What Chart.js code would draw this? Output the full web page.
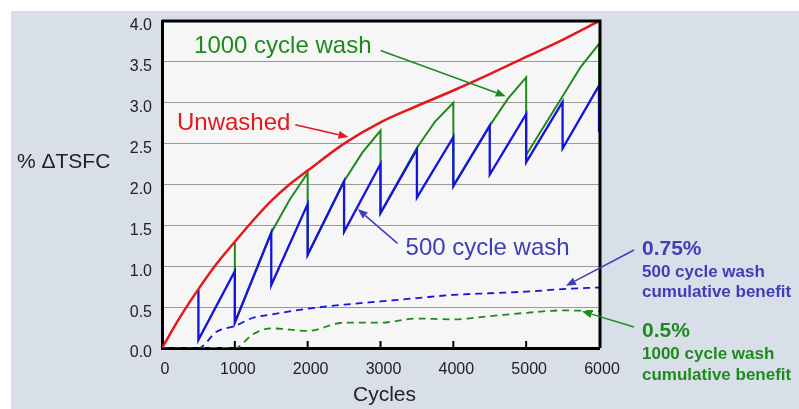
<!DOCTYPE html>
<html>
<head>
<meta charset="utf-8">
<script src="https://cdn.jsdelivr.net/npm/chart.js@4.4.1/dist/chart.umd.min.js"></script>
<style>
html, body { margin: 0; padding: 0; background: #fff; }
</style>
</head>
<body>
<canvas id="chart" width="799" height="409"></canvas>
<script>
// cycles / % delta TSFC
const unwashedCycles = [0,250,500,750,1000,1250,1500,1750,2000,2500,3000,3500,4000,4500,5000,5500,6000];
const unwashedTsfc   = [0,0.38,0.72,1.03,1.30,1.56,1.80,2.00,2.17,2.50,2.76,2.96,3.15,3.35,3.56,3.77,4.00];

const wash500Cycles = [500,500,1000,1000,1500,1500,2000,2000,2500,2500,3000,3000,3500,3500,4000,4000,4500,4500,5000,5000,5500,5500,6000,6000];
const wash500Tsfc   = [0.72,0.10,0.94,0.31,1.41,0.77,1.76,1.14,2.04,1.42,2.25,1.65,2.43,1.84,2.58,1.98,2.72,2.12,2.86,2.27,3.01,2.44,3.21,2.64];

const wash1000Cycles = [1000,1000,1500,1750,2000,2000,2500,2750,3000,3000,3500,3750,4000,4000,4500,4750,5000,5000,5500,5750,6000,6000];
const wash1000Tsfc   = [1.30,0.31,1.41,1.81,2.14,1.14,2.04,2.39,2.66,1.65,2.45,2.77,3.00,1.98,2.72,3.05,3.31,2.36,3.08,3.44,3.72,3.22];

const benefit500Cycles = [0,500,750,1000,1250,1500,2000,2500,3000,3500,4000,4500,5000,5500,6000];
const benefit500Tsfc   = [0,0,0.20,0.27,0.37,0.41,0.48,0.53,0.57,0.61,0.65,0.67,0.69,0.72,0.74];

const benefit1000Cycles = [0,1000,1250,1500,2000,2500,3000,3500,4000,4500,5000,5500,6000];
const benefit1000Tsfc   = [0,0,0.17,0.24,0.21,0.31,0.31,0.36,0.35,0.39,0.43,0.46,0.45];

const xTicks = [0,1000,2000,3000,4000,5000,6000];
const yTicks = [0,0.5,1,1.5,2,2.5,3,3.5,4];

const RED = '#e3191e', GREEN = '#1e8a1e', BLUE = '#1414dc', BLUE_TXT = '#3f3fb4';
const FONT = '"Liberation Sans", Arial, sans-serif';

function pts(xs, ys) {
    return xs.map((x, i) => ({ x: x, y: ys[i] }));
}

function arrow(ctx, x1, y1, x2, y2, color) {
    const ang = Math.atan2(y2 - y1, x2 - x1), L = 10, H = 4;
    const bx = x2 - L * Math.cos(ang), by = y2 - L * Math.sin(ang);
    ctx.strokeStyle = color;
    ctx.fillStyle = color;
    ctx.lineWidth = 1.5;
    ctx.beginPath(); ctx.moveTo(x1, y1); ctx.lineTo(bx, by); ctx.stroke();
    ctx.beginPath();
    ctx.moveTo(x2, y2);
    ctx.lineTo(bx + H * Math.sin(ang), by - H * Math.cos(ang));
    ctx.lineTo(bx - H * Math.sin(ang), by + H * Math.cos(ang));
    ctx.closePath();
    ctx.fill();
}

const decor = {
    id: 'decor',
    beforeDraw(chart) {
        const { ctx, chartArea: a } = chart;
        ctx.save();
        ctx.fillStyle = '#d8dfe9';
        ctx.fillRect(11, 11, chart.width - 11, chart.height - 11);
        ctx.fillStyle = '#f6f6f6';
        ctx.fillRect(a.left, a.top, a.right - a.left, a.bottom - a.top);
        ctx.restore();
    },
    afterDatasetsDraw(chart) {
        const { ctx, chartArea: a, scales: { x, y } } = chart;
        const X = v => x.getPixelForValue(v), Y = v => y.getPixelForValue(v);
        ctx.save();
        // top and right frame
        ctx.strokeStyle = '#000';
        ctx.lineWidth = 3;
        ctx.beginPath();
        ctx.moveTo(a.left, a.top);
        ctx.lineTo(a.right + 1, a.top);
        ctx.lineTo(a.right + 1, a.bottom);
        ctx.stroke();
        // inner tick marks on the x axis
        ctx.lineWidth = 2;
        xTicks.slice(1, -1).forEach(v => {
            ctx.beginPath();
            ctx.moveTo(X(v), a.bottom);
            ctx.lineTo(X(v), a.bottom - 7);
            ctx.stroke();
        });

        // axis titles
        ctx.fillStyle = '#222';
        ctx.textBaseline = 'alphabetic';
        ctx.textAlign = 'left';
        ctx.font = '21px ' + FONT;
        ctx.fillText('% \u0394TSFC', 17, 168);
        ctx.textAlign = 'center';
        ctx.fillText('Cycles', (a.left + a.right) / 2 + 4, 401);

        // labels inside the plot
        ctx.textAlign = 'left';
        ctx.font = '24px ' + FONT;
        ctx.fillStyle = GREEN;
        ctx.fillText('1000 cycle wash', X(440), Y(3.61));
        ctx.fillStyle = RED;
        ctx.fillText('Unwashed', X(206), Y(2.67));
        ctx.fillStyle = BLUE_TXT;
        ctx.fillText('500 cycle wash', X(3344), Y(1.14));

        arrow(ctx, X(3000), Y(3.64), X(4720), Y(3.08), GREEN);
        arrow(ctx, X(1830), Y(2.73), X(2560), Y(2.58), RED);
        arrow(ctx, X(3234), Y(1.28), X(2688), Y(1.70), BLUE_TXT);

        // cumulative benefit notes at the right
        const nx = a.right + 43;
        ctx.fillStyle = BLUE_TXT;
        ctx.font = 'bold 21px ' + FONT;
        ctx.fillText('0.75%', nx, 255);
        ctx.font = 'bold 17px ' + FONT;
        ctx.fillText('500 cycle wash', nx, 277);
        ctx.fillText('cumulative benefit', nx, 297);
        ctx.fillStyle = GREEN;
        ctx.font = 'bold 21px ' + FONT;
        ctx.fillText('0.5%', nx, 337);
        ctx.font = 'bold 17px ' + FONT;
        ctx.fillText('1000 cycle wash', nx, 359);
        ctx.fillText('cumulative benefit', nx, 380);

        arrow(ctx, nx - 8, 250, X(5546), Y(0.76), BLUE_TXT);
        arrow(ctx, nx - 8, 327, X(5766), Y(0.45), GREEN);
        ctx.restore();
    }
};

const config = {
    type: 'line',
    data: {
        datasets: [
            {
                label: 'Unwashed',
                data: pts(unwashedCycles, unwashedTsfc),
                borderColor: RED,
                borderWidth: 2.5,
                cubicInterpolationMode: 'monotone'
            },
            {
                label: '500 cycle wash',
                data: pts(wash500Cycles, wash500Tsfc),
                borderColor: BLUE,
                borderWidth: 2.3,
                tension: 0
            },
            {
                label: '1000 cycle wash',
                data: pts(wash1000Cycles, wash1000Tsfc),
                borderColor: GREEN,
                borderWidth: 2,
                tension: 0
            },
            {
                label: '500 cycle wash cumulative benefit',
                data: pts(benefit500Cycles, benefit500Tsfc),
                borderColor: BLUE,
                borderWidth: 1.8,
                borderDash: [7, 5],
                cubicInterpolationMode: 'monotone'
            },
            {
                label: '1000 cycle wash cumulative benefit',
                data: pts(benefit1000Cycles, benefit1000Tsfc),
                borderColor: GREEN,
                borderWidth: 1.8,
                borderDash: [7, 5],
                cubicInterpolationMode: 'monotone'
            }
        ]
    },
    options: {
        responsive: false,
        animation: false,
        devicePixelRatio: 1,
        layout: { padding: { top: 21, right: 200, left: 0, bottom: 0 } },
        elements: { point: { radius: 0 } },
        plugins: { legend: { display: false }, tooltip: { enabled: false } },
        scales: {
            x: {
                type: 'linear',
                min: 0,
                max: 6000,
                afterBuildTicks: s => { s.ticks = xTicks.map(v => ({ value: v })); },
                afterFit: s => { s.height = 61; },
                ticks: {
                    padding: 12,
                    labelOffset: 3,
                    color: '#222',
                    font: { family: FONT, size: 16 },
                    callback: v => String(v)
                },
                grid: { display: false, drawTicks: false },
                border: { display: true, color: '#000', width: 3 }
            },
            y: {
                min: 0,
                max: 4,
                afterBuildTicks: s => { s.ticks = yTicks.map(v => ({ value: v })); },
                afterFit: s => { s.width = 162; },
                ticks: {
                    padding: 10,
                    labelOffset: 5,
                    color: '#222',
                    font: { family: FONT, size: 16 },
                    callback: v => v.toFixed(1)
                },
                grid: { color: '#9a9a9a', lineWidth: 1, drawTicks: false },
                border: { display: true, color: '#000', width: 3 }
            }
        }
    },
    plugins: [decor]
};

const chart = new Chart(document.getElementById('chart'), config);
</script>
</body>
</html>
